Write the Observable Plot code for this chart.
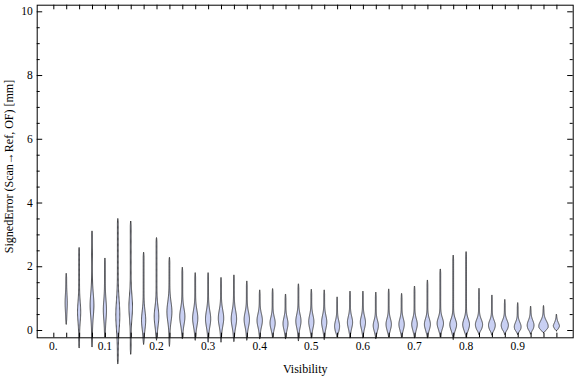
<!DOCTYPE html>
<html>
<head>
<meta charset="utf-8">
<script src="https://cdn.jsdelivr.net/npm/d3@7"></script>
<script src="https://cdn.jsdelivr.net/npm/@observablehq/plot@0.6"></script>
<style>
  html, body { margin: 0; padding: 0; background: #fff; }
  #chart svg { display: block; }
</style>
</head>
<body>
<div id="chart"></div>
<script>
// Visibility bins (violin positions)
const visibility = [0.025,0.05,0.075,0.1,0.125,0.15,0.175,0.2,0.225,0.25,0.275,0.3,0.325,0.35,0.375,0.4,0.425,0.45,0.475,0.5,0.525,0.55,0.575,0.6,0.625,0.65,0.675,0.7,0.725,0.75,0.775,0.8,0.825,0.85,0.875,0.9,0.925,0.95,0.975];
// Max of each distribution (mm)
const maxErr = [1.78,2.59,3.11,2.26,3.5,3.42,2.44,2.9,2.28,1.97,1.8,1.8,1.65,1.73,1.54,1.26,1.3,1.13,1.45,1.28,1.26,1.04,1.22,1.22,1.19,1.29,1.15,1.38,1.57,1.93,2.35,2.46,1.31,1.1,0.96,0.86,0.75,0.77,0.5];
// Min of each distribution (mm)
const minErr = [0.19,-0.55,-0.52,-0.21,-1.05,-0.75,-0.44,-0.31,-0.5,-0.26,-0.31,-0.37,-0.37,-0.35,-0.31,-0.27,-0.22,-0.27,-0.33,-0.24,-0.29,-0.21,-0.24,-0.24,-0.26,-0.21,-0.22,-0.24,-0.24,-0.21,-0.29,-0.22,-0.13,-0.15,-0.13,-0.13,-0.12,-0.08,-0.02];
// Mode (densest value) of each distribution (mm)
const modeErr = [0.85,0.57,0.78,0.63,0.47,0.73,0.31,0.42,0.57,0.42,0.37,0.35,0.37,0.35,0.33,0.3,0.22,0.2,0.28,0.26,0.25,0.12,0.24,0.24,0.14,0.18,0.18,0.18,0.18,0.21,0.17,0.17,0.17,0.15,0.15,0.1,0.15,0.12,0.1];
// Relative peak density of each distribution
const peakDensity = [0.7,1.2,1.5,1.2,1.6,1.4,1.7,1.9,2.1,2.2,2.2,2.2,2.3,2.3,2.3,2.3,2.2,2.1,2.2,2.2,2.2,2.1,2.2,2.2,2.2,2.3,2.3,2.4,2.6,2.8,3.0,3.0,3.2,3.0,3.2,3.0,3.0,4.3,2.8];
// Spread of the dense core (mm)
const coreSpread = [0.25,0.3,0.35,0.3,0.45,0.35,0.28,0.3,0.3,0.25,0.25,0.25,0.25,0.25,0.22,0.2,0.18,0.18,0.2,0.2,0.2,0.17,0.18,0.18,0.16,0.17,0.17,0.17,0.17,0.17,0.17,0.17,0.16,0.15,0.15,0.14,0.15,0.16,0.12];

const xMajor = [0,0.1,0.2,0.3,0.4,0.5,0.6,0.7,0.8,0.9];
const xTicks = [0, ...visibility];
const yMajor = [0,2,4,6,8,10];
const yMinor = d3.range(0, 10.01, 0.5).filter(v => v % 2 !== 0);

// layout
const W = 576, H = 377;
const mL = 36.7, mR = 3.3, mT = 4.7, mB = 39.7;
const xDom = [-0.0322, 1.0066];
const yDom = [-0.229, 10.207];
const pxPerX = (W - mL - mR) / (xDom[1] - xDom[0]);
const pxPerY = (H - mT - mB) / (yDom[1] - yDom[0]);

// violin outlines
const outline = [];
visibility.forEach((v, i) => {
  const lo = minErr[i], hi = maxErr[i], m = modeErr[i], s = coreSpread[i], pk = peakDensity[i];
  const n = 120;
  for (let j = 0; j <= n; j++) {
    const y = lo + (hi - lo) * j / n;
    const d = Math.min(y - lo, hi - y);
    const taper = Math.sqrt(Math.min(1, d / 0.15));
    const w = (pk * Math.exp(-0.5 * ((y - m) / s) ** 2) + 0.4) * taper;
    outline.push({k: i, y, x1: v - w / pxPerX, x2: v + w / pxPerX});
  }
});

const tickLenX = 4.6 / pxPerY;
const majY = 5.5 / pxPerX, minY = 3 / pxPerX;

const chart = Plot.plot({
  width: W, height: H,
  marginLeft: mL, marginRight: mR, marginTop: mT, marginBottom: mB,
  style: {fontFamily: "'Liberation Serif', 'Times New Roman', serif", background: "#fff"},
  x: {domain: xDom, axis: null},
  y: {domain: yDom, axis: null},
  marks: [
    Plot.areaX(outline, {y: "y", x1: "x1", x2: "x2", z: "k", fill: "#c9d0f3", stroke: "#2e2e2e", strokeWidth: 0.85, curve: "linear"}),
    Plot.frame({stroke: "#000", strokeWidth: 1}),
    // x ticks bottom & top (inward)
    Plot.ruleX(xTicks, {x: d => d, y1: yDom[0], y2: yDom[0] + tickLenX, stroke: "#000"}),
    Plot.ruleX(xTicks, {x: d => d, y1: yDom[1], y2: yDom[1] - tickLenX, stroke: "#000"}),
    // y ticks left & right
    Plot.ruleY(yMajor, {y: d => d, x1: xDom[0], x2: xDom[0] + majY, stroke: "#000"}),
    Plot.ruleY(yMinor, {y: d => d, x1: xDom[0], x2: xDom[0] + minY, stroke: "#000"}),
    Plot.ruleY(yMajor, {y: d => d, x1: xDom[1], x2: xDom[1] - majY, stroke: "#000"}),
    Plot.ruleY(yMinor, {y: d => d, x1: xDom[1], x2: xDom[1] - minY, stroke: "#000"}),
    Plot.axisX(xMajor, {tickSize: 0, tickPadding: 4, fontSize: 11.5, fill: "#000", tickFormat: d => d === 0 ? "0." : String(d), label: null, dx: -0.5}),
    Plot.axisY(yMajor, {tickSize: 0, tickPadding: 4.5, fontSize: 11.5, fill: "#000", label: null}),
    Plot.text(["Visibility"], {frameAnchor: "bottom", dy: 31, lineAnchor: "middle", fontSize: 12, fill: "#000"}),
    Plot.text(["SignedError (Scan\u2192Ref, OF) [mm]"], {frameAnchor: "left", textAnchor: "middle", lineAnchor: "middle", dx: -28.5, dy: -5, rotate: -90, fontSize: 12, fill: "#000"})
  ]
});
document.getElementById("chart").appendChild(chart);
</script>
</body>
</html>
